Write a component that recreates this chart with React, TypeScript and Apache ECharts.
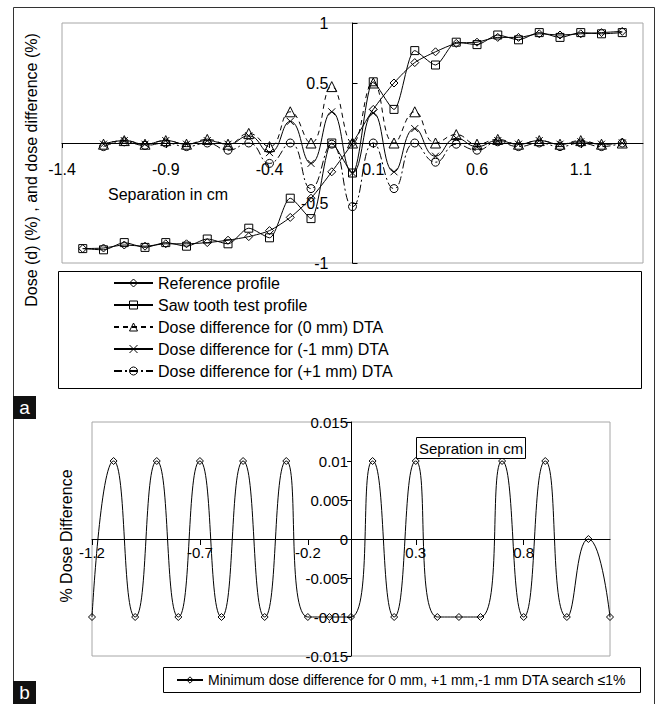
import React, { useEffect, useRef } from 'react';
import * as echarts from 'echarts';

// ---------- Data ----------
// Panel a: profiles
const profileX = [-1.3, -1.2, -1.1, -1.0, -0.9, -0.8, -0.7, -0.6, -0.5, -0.4, -0.3, -0.2, -0.1, 0.0, 0.1, 0.2, 0.3, 0.4, 0.5, 0.6, 0.7, 0.8, 0.9, 1.0, 1.1, 1.2, 1.3];
const referenceProfile = [-0.88, -0.875, -0.85, -0.86, -0.84, -0.84, -0.83, -0.81, -0.78, -0.73, -0.62, -0.46, -0.24, 0.0, 0.28, 0.5, 0.67, 0.76, 0.83, 0.84, 0.88, 0.88, 0.91, 0.9, 0.91, 0.92, 0.93];
const sawToothProfile = [-0.88, -0.89, -0.83, -0.87, -0.83, -0.86, -0.8, -0.84, -0.71, -0.79, -0.46, -0.63, 0.0, -0.25, 0.51, 0.28, 0.77, 0.65, 0.84, 0.82, 0.9, 0.86, 0.92, 0.88, 0.92, 0.91, 0.92];

// Panel a: dose differences
const diffX = [-1.2, -1.1, -1.0, -0.9, -0.8, -0.7, -0.6, -0.5, -0.4, -0.3, -0.2, -0.1, 0.0, 0.1, 0.2, 0.3, 0.4, 0.5, 0.6, 0.7, 0.8, 0.9, 1.0, 1.1, 1.2, 1.3];
const diff0mm = [-0.01, 0.02, -0.01, 0.02, -0.01, 0.03, -0.01, 0.08, -0.03, 0.26, 0.0, 0.47, 0.0, 0.5, 0.0, 0.26, 0.0, 0.07, -0.01, 0.03, -0.01, 0.02, -0.01, 0.02, -0.01, 0.0];
const diffMinus1mm = [-0.01, 0.02, -0.01, 0.02, -0.01, 0.02, -0.01, 0.06, -0.08, 0.18, -0.17, 0.26, -0.25, 0.25, -0.24, 0.12, -0.11, 0.04, -0.03, 0.02, -0.01, 0.02, -0.01, 0.01, -0.01, 0.0];
const diffPlus1mm = [-0.03, 0.01, -0.02, 0.0, -0.03, 0.0, -0.06, 0.0, -0.17, 0.0, -0.38, -0.01, -0.53, 0.0, -0.38, 0.0, -0.16, -0.01, -0.06, 0.01, -0.03, 0.0, -0.03, 0.0, -0.03, 0.0];

// Panel b: minimum dose difference
const minDiffX = [-1.2, -1.1, -1.0, -0.9, -0.8, -0.7, -0.6, -0.5, -0.4, -0.3, -0.2, -0.1, 0.0, 0.1, 0.2, 0.3, 0.4, 0.5, 0.6, 0.7, 0.8, 0.9, 1.0, 1.1, 1.2];
const minDiff = [-0.01, 0.01, -0.01, 0.01, -0.01, 0.01, -0.01, 0.01, -0.01, 0.01, -0.01, -0.01, -0.01, 0.01, -0.01, 0.01, -0.01, -0.01, -0.01, 0.01, -0.01, 0.01, -0.01, 0.0, -0.01];

// Series names / texts
const seriesNamesA = [
  'Reference profile',
  'Saw tooth test profile',
  'Dose difference for (0 mm) DTA',
  'Dose difference for (-1 mm) DTA',
  'Dose difference for (+1 mm) DTA',
];
const seriesNameB = 'Minimum dose difference for 0 mm, +1 mm,-1 mm DTA search \u22641%';
const yTitleA = 'Dose (d) (%) , and dose difference (%)';
const yTitleB = '% Dose Difference';
const xNoteA = 'Separation in cm';
const xNoteB = 'Sepration in cm';

const FONT = '"Liberation Sans", Arial, Helvetica, sans-serif';
const BLACK = '#000';

const zip = (xs: number[], ys: number[]) => xs.map((x, i) => [x, ys[i]]);
const CROSS = 'path://M0,0L10,10M10,0L0,10';

function lineSeries(name: string, xs: number[], ys: number[], symbol: string, size: number, dash: any, smooth: number, idx: number) {
  return {
    type: 'line',
    name,
    xAxisIndex: idx,
    yAxisIndex: idx,
    data: zip(xs, ys),
    symbol,
    symbolSize: size,
    showAllSymbol: true,
    smooth,
    lineStyle: { color: BLACK, width: 1, type: dash },
    itemStyle: { color: 'rgba(255,255,255,0)', borderColor: BLACK, borderWidth: 1 },
    emphasis: { disabled: true },
    z: 3,
  };
}

export default function App() {
  const ref = useRef<HTMLDivElement>(null);

  useEffect(() => {
    if (!ref.current) return;
    const chart = echarts.init(ref.current, undefined, { renderer: 'svg' });

    const fmt1 = (v: number) => String(Math.round(v * 10) / 10);

    // grid geometry
    const gA = { left: 62, top: 23, width: 581, height: 240 };
    const gB = { left: 92, top: 422, width: 518, height: 234 };

    const option: any = {
      animation: false,
      backgroundColor: '#fff',
      textStyle: { fontFamily: FONT, color: BLACK },
      grid: [
        { ...gA, show: true, borderColor: '#a6a6a6', borderWidth: 1, backgroundColor: 'rgba(0,0,0,0)', containLabel: false, outerBoundsMode: 'none' },
        { ...gB, show: true, borderColor: '#a6a6a6', borderWidth: 1, backgroundColor: 'rgba(0,0,0,0)', containLabel: false, outerBoundsMode: 'none' },
      ],
      xAxis: [
        {
          type: 'value', gridIndex: 0, min: -1.4, max: 1.4, interval: 0.5, position: 'bottom',
          offset: -gA.height / 2,
          axisLine: { onZero: false, lineStyle: { color: BLACK, width: 1 } },
          axisTick: { show: true, length: 5, lineStyle: { color: BLACK } },
          axisLabel: { margin: 18, fontSize: 16, color: BLACK, fontFamily: FONT, showMaxLabel: false, formatter: fmt1 },
          splitLine: { show: false },
        },
        {
          type: 'value', gridIndex: 1, min: -1.2, max: 1.2, interval: 0.5, position: 'bottom',
          offset: -gB.height / 2,
          axisLine: { onZero: false, lineStyle: { color: BLACK, width: 1 } },
          axisTick: { show: true, length: 6, lineStyle: { color: BLACK } },
          axisLabel: { margin: 6, fontSize: 15, color: BLACK, fontFamily: FONT, showMaxLabel: false, formatter: fmt1 },
          splitLine: { show: false },
        },
      ],
      yAxis: [
        {
          type: 'value', gridIndex: 0, min: -1, max: 1, interval: 0.5, position: 'left',
          offset: -gA.width * (1.4 / 2.8),
          axisLine: { onZero: false, lineStyle: { color: BLACK, width: 1 } },
          axisTick: { show: true, inside: true, length: 5, lineStyle: { color: BLACK } },
          axisLabel: { margin: 24, fontSize: 16, color: BLACK, fontFamily: FONT, formatter: (v: number) => (Math.abs(v) < 1e-9 ? '' : String(v)) },
          splitLine: { show: false },
        },
        {
          type: 'value', gridIndex: 1, min: -0.015, max: 0.015, interval: 0.005, position: 'left',
          offset: -gB.width * (1.2 / 2.4),
          axisLine: { onZero: false, lineStyle: { color: BLACK, width: 1 } },
          axisTick: { show: true, length: 4, lineStyle: { color: BLACK } },
          axisLabel: { margin: 3, fontSize: 15, color: BLACK, fontFamily: FONT, formatter: (v: number) => String(Math.round(v * 1000) / 1000) },
          splitLine: { show: false },
        },
      ],
      legend: [
        {
          data: seriesNamesA,
          orient: 'vertical',
          left: 113,
          top: 275,
          itemWidth: 39,
          itemHeight: 10,
          itemGap: 6,
          padding: 0,
          selectedMode: false,
          itemStyle: { color: 'rgba(255,255,255,0)', borderColor: BLACK, borderWidth: 1 },
          textStyle: { fontSize: 16, color: BLACK, fontFamily: FONT },
        },
        {
          data: [seriesNameB],
          orient: 'horizontal',
          left: 176,
          top: 673,
          itemWidth: 26,
          itemHeight: 8,
          padding: 0,
          selectedMode: false,
          itemStyle: { color: 'rgba(255,255,255,0)', borderColor: BLACK, borderWidth: 1 },
          textStyle: { fontSize: 14, color: BLACK, fontFamily: FONT },
        },
      ],
      series: [
        lineSeries(seriesNamesA[0], profileX, referenceProfile, 'diamond', 8, 'solid', 0.25, 0),
        lineSeries(seriesNamesA[1], profileX, sawToothProfile, 'rect', 8, 'solid', 0.25, 0),
        lineSeries(seriesNamesA[2], diffX, diff0mm, 'triangle', 10, [5, 4], 0.5, 0),
        lineSeries(seriesNamesA[3], diffX, diffMinus1mm, CROSS, 7, 'solid', 0.5, 0),
        lineSeries(seriesNamesA[4], diffX, diffPlus1mm, 'circle', 8, [8, 3, 2, 3], 0.5, 0),
        lineSeries(seriesNameB, minDiffX, minDiff, 'diamond', 7, 'solid', 0.6, 1),
      ],
      graphic: [
        { type: 'rect', z: 100, silent: true, shape: { x: 13.5, y: 7.5, width: 641, height: 720 }, style: { fill: 'none', stroke: '#333', lineWidth: 1 } },
        { type: 'rect', z: 100, silent: true, shape: { x: 58.5, y: 271.5, width: 583, height: 117 }, style: { fill: 'none', stroke: BLACK, lineWidth: 1 } },
        { type: 'rect', z: 100, silent: true, shape: { x: 163.5, y: 667.5, width: 477, height: 25 }, style: { fill: 'none', stroke: BLACK, lineWidth: 1 } },
        { type: 'rect', z: 100, silent: true, shape: { x: 13, y: 396, width: 23, height: 23 }, style: { fill: '#111' } },
        { type: 'text', z: 101, silent: true, x: 24.5, y: 407.5, style: { text: 'a', fill: '#fff', fontSize: 19, fontFamily: FONT, align: 'center', verticalAlign: 'middle' } },
        { type: 'rect', z: 100, silent: true, shape: { x: 13, y: 681, width: 23, height: 23 }, style: { fill: '#111' } },
        { type: 'text', z: 101, silent: true, x: 24.5, y: 692.5, style: { text: 'b', fill: '#fff', fontSize: 19, fontFamily: FONT, align: 'center', verticalAlign: 'middle' } },
        { type: 'text', z: 100, silent: true, x: 31, y: 170, rotation: Math.PI / 2, style: { text: yTitleA, fill: BLACK, fontSize: 16, fontFamily: FONT, align: 'center', verticalAlign: 'middle' } },
        { type: 'text', z: 100, silent: true, x: 66, y: 536, rotation: Math.PI / 2, style: { text: yTitleB, fill: BLACK, fontSize: 16, fontFamily: FONT, align: 'center', verticalAlign: 'middle' } },
        { type: 'text', z: 100, silent: true, x: 108, y: 194, style: { text: xNoteA, fill: BLACK, fontSize: 16, fontFamily: FONT, align: 'left', verticalAlign: 'middle' } },
        { type: 'rect', z: 100, silent: true, shape: { x: 416.5, y: 437.5, width: 109, height: 21 }, style: { fill: '#fff', stroke: BLACK, lineWidth: 1 } },
        { type: 'text', z: 101, silent: true, x: 419, y: 448, style: { text: xNoteB, fill: BLACK, fontSize: 15, fontFamily: FONT, align: 'left', verticalAlign: 'middle' } },
      ],
    };

    chart.setOption(option);
    return () => chart.dispose();
  }, []);

  return <div ref={ref} style={{ position: 'absolute', left: 0, top: 0, width: 659, height: 704 }} />;
}
